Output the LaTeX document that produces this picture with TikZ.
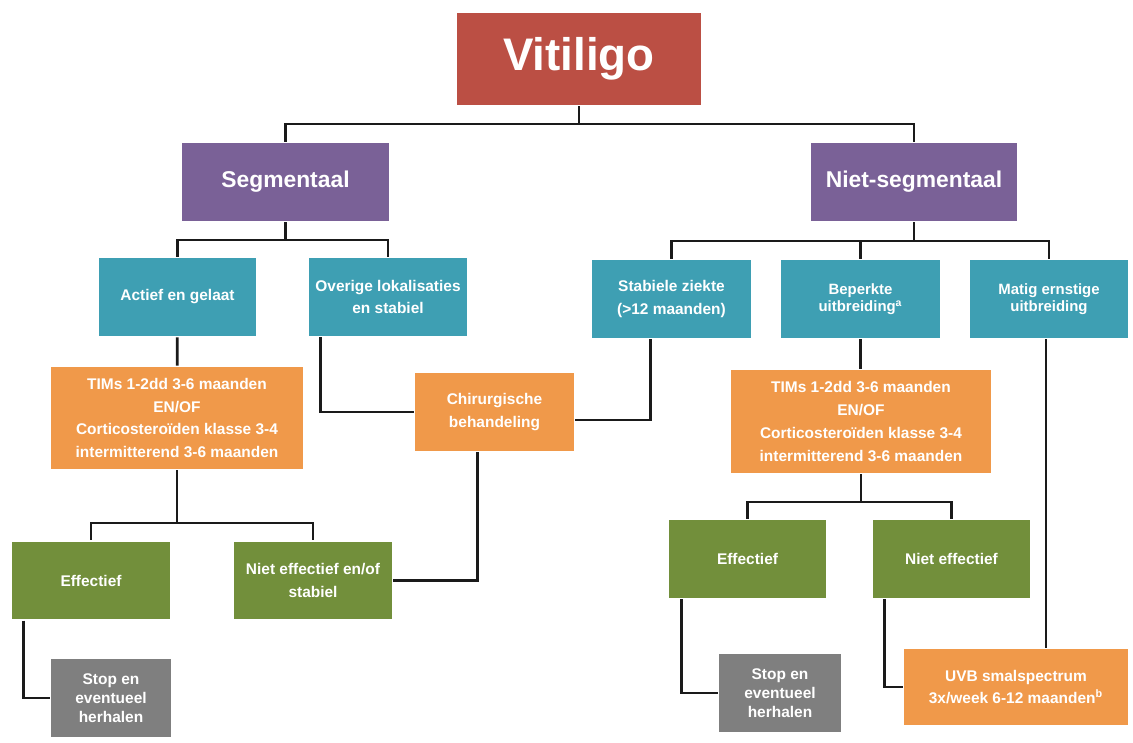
\documentclass[tikz,border=0pt]{standalone}
\usepackage{fontspec}
\setmainfont{Liberation Sans}
\usetikzlibrary{positioning}

\definecolor{vitred}{HTML}{BB4F44}
\definecolor{segpurple}{HTML}{7A6197}
\definecolor{formteal}{HTML}{3E9FB3}
\definecolor{therorange}{HTML}{F0994A}
\definecolor{effgreen}{HTML}{728F3B}
\definecolor{stopgray}{HTML}{7F7F7F}
\definecolor{linkblack}{HTML}{1A1A1A}

\begin{document}
\begin{tikzpicture}[x=0.02cm,y=-0.02cm,line width=1.6pt,draw=linkblack,
  main node/.style={rectangle,inner sep=1pt,align=center,text=white,
    font=\bfseries\fontsize{8.8}{13}\selectfont},
  title node/.style={main node,fill=vitred,minimum width=4.88cm,minimum height=1.84cm,
    font=\bfseries\fontsize{26}{30}\selectfont},
  group node/.style={main node,fill=segpurple,minimum width=4.14cm,minimum height=1.56cm,
    font=\bfseries\fontsize{13}{16}\selectfont},
  form node/.style={main node,fill=formteal,minimum height=1.56cm},
  therapy node/.style={main node,fill=therorange},
  result node/.style={main node,fill=effgreen,minimum width=3.16cm,minimum height=1.55cm},
  stop node/.style={main node,fill=stopgray,minimum width=2.42cm,minimum height=1.56cm,
    font=\bfseries\fontsize{8.8}{10.8}\selectfont}]

 \useasboundingbox (0,0) rectangle (1133,743);

 \node[title node] (vit) at (579,59) {Vitiligo};
 \node[group node] (seg) at (285.5,182) {Segmentaal};
 \node[group node] (nseg) at (914,182) {Niet-segmentaal};

 \node[form node,minimum width=3.14cm] (act) at (177.5,297) {Actief en gelaat};
 \node[form node,minimum width=3.16cm] (ovl) at (388,297) {Overige lokalisaties\\en stabiel};
 \node[form node,minimum width=3.18cm] (stab) at (671.5,299) {Stabiele ziekte\\(>12 maanden)};
 \node[form node,minimum width=3.18cm,font=\bfseries\fontsize{8.5}{10}\selectfont] (bep) at (860.5,299) {Beperkte\\uitbreiding\textsuperscript{a}};
 \node[form node,minimum width=3.16cm,font=\bfseries\fontsize{8.5}{10}\selectfont] (mat) at (1049,299) {Matig ernstige\\uitbreiding};

 \node[therapy node,minimum width=5.06cm,minimum height=2.04cm] (timl) at (177,418)
   {TIMs 1-2dd 3-6 maanden\\EN/OF\\Corticosteroïden klasse 3-4\\intermitterend 3-6 maanden};
 \node[therapy node,minimum width=3.18cm,minimum height=1.56cm] (chir) at (494.5,412) {Chirurgische\\behandeling};
 \node[therapy node,minimum width=5.2cm,minimum height=2.06cm] (timr) at (861,421.5)
   {TIMs 1-2dd 3-6 maanden\\EN/OF\\Corticosteroïden klasse 3-4\\intermitterend 3-6 maanden};

 \node[result node] (effl) at (91,580.5) {Effectief};
 \node[result node] (neffl) at (313,580.5) {Niet effectief en/of\\stabiel};
 \node[result node] (effr) at (747.5,559) {Effectief};
 \node[result node] (neffr) at (951.5,559) {Niet effectief};

 \node[stop node,minimum width=2.4cm] (stopl) at (111,698) {Stop en\\eventueel\\herhalen};
 \node[stop node,minimum width=2.44cm] (stopr) at (780,693) {Stop en\\eventueel\\herhalen};
 \node[therapy node,minimum width=4.48cm,minimum height=1.52cm] (uvb) at (1016,687)
   {UVB smalspectrum\\3x/week 6-12 maanden\textsuperscript{b}};

 % splitsingen
 \coordinate (v1) at (579,124);
 \coordinate (s1) at (285.5,240);
 \coordinate (n1) at (914,241);
 \coordinate (t1) at (177,523);
 \coordinate (t2) at (861,502);

 \draw (vit) -- (v1);
 \draw (v1) -| (seg);
 \draw (v1) -| (nseg);

 \draw (seg) -- (s1);
 \draw (s1) -| (act);
 \draw (s1) -| (ovl);

 \draw (nseg) -- (n1);
 \draw (n1) -| (stab);
 \draw (n1) -| (bep);
 \draw (n1) -| (mat);

 \draw (act) -- (timl);
 \draw (bep) -- (bep |- timr.north);
 \draw ([xshift=0.26cm]ovl.south west) |- (chir);
 \draw ([xshift=1.2cm]stab.south west) |- ([yshift=-0.16cm]chir.east);
 \draw ([xshift=-0.34cm]chir.south) |- (neffl);

 \draw (timl) -- (t1);
 \draw (t1) -| (effl);
 \draw (t1) -| (neffl);
 \draw ([xshift=0.26cm]effl.south west) |- (stopl);

 \draw (timr) -- (t2);
 \draw (t2) -| (effr);
 \draw (t2) -| (neffr);
 \draw ([xshift=0.28cm]effr.south west) |- (stopr);
 \draw ([xshift=0.26cm]neffr.south west) |- (uvb);
 \draw ([xshift=-0.06cm]mat.south) -- ([xshift=-0.06cm]mat.south |- uvb.north);

\end{tikzpicture}
\end{document}
